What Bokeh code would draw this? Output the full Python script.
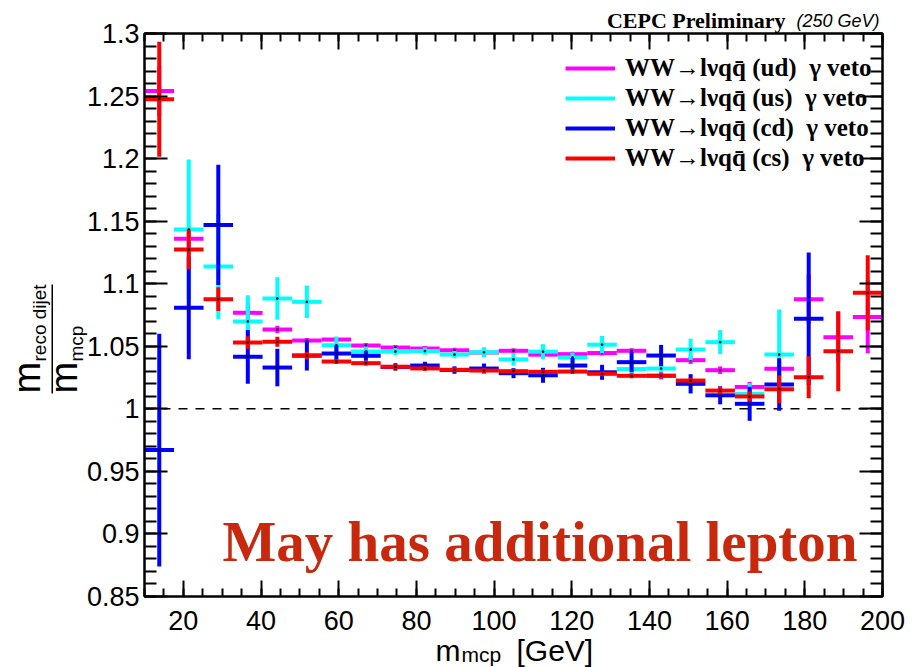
import math
from bokeh.plotting import figure
from bokeh.models import (Range1d, LinearAxis, SingleIntervalTicker, CustomJSTickFormatter,
                          ColumnDataSource, Span, Label, Legend, LegendItem, BoxAnnotation)
from bokeh.embed import file_html
from bokeh.resources import INLINE

nan = float("nan")

# ---------------- data ----------------
bin_centers = [13.8, 21.4, 29.0, 36.6, 44.2, 51.8, 59.4, 67.0, 74.6, 82.2, 89.8, 97.4, 105.0,
               112.6, 120.2, 127.8, 135.4, 143.0, 150.6, 158.2, 165.8, 173.4, 181.0, 188.6, 196.2]
bin_half_width = 3.8

ud_ratio = [1.254, 1.136, nan, 1.0767, 1.0634, 1.0546, 1.0554, 1.0506, 1.049, 1.0482, 1.0468, 1.045,
            1.0464, 1.0433, 1.0437, 1.0446, 1.0464, 1.0265, 1.0389, 1.0309, 1.0175, 1.032, 1.0876,
            1.0572, 1.0735]
ud_err = [0.02, 0.01, nan, 0.008, 0.003, 0.002, 0.002, 0.002, 0.002, 0.002, 0.002, 0.002, 0.002,
          0.002, 0.002, 0.002, 0.002, 0.003, 0.003, 0.003, 0.004, 0.006, 0.02, 0.02, 0.029]

us_ratio = [nan, 1.1433, 1.1138, 1.0698, 1.0882, 1.0855, 1.0508, 1.0458, 1.0458, 1.0462, 1.0434,
            1.0452, 1.0395, 1.0457, 1.041, 1.0513, 1.0318, 1.0322, 1.0474, 1.0533, 1.012, 1.0434,
            nan, nan, nan]
us_err = [nan, 0.056, 0.042, 0.021, 0.017, 0.013, 0.007, 0.004, 0.003, 0.003, 0.003, 0.004, 0.005,
          0.006, 0.004, 0.007, 0.004, 0.003, 0.0087, 0.0096, 0.0085, 0.036, nan, nan, nan]

cd_ratio = [0.967, 1.0807, 1.147, 1.0416, 1.033, 1.0426, 1.0442, 1.0424, 1.0335, 1.0346, 1.031,
            1.0322, 1.0285, 1.0268, 1.0346, 1.0292, 1.0373, 1.0426, 1.02, 1.0108, 1.004, 1.0194,
            1.072, nan, nan]
cd_err = [0.093, 0.041, 0.048, 0.0215, 0.015, 0.012, 0.0065, 0.004, 0.003, 0.003, 0.003, 0.004,
          0.004, 0.006, 0.006, 0.006, 0.008, 0.0085, 0.0077, 0.0072, 0.0136, 0.021, 0.053, nan, nan]

cs_ratio = [1.2475, 1.1273, 1.0876, 1.053, 1.0536, 1.0425, 1.0378, 1.0365, 1.0336, 1.0323, 1.0312,
            1.0306, 1.0301, 1.0296, 1.0298, 1.028, 1.0264, 1.0264, 1.0226, 1.0146, 1.0099, 1.0157,
            1.0253, 1.046, 1.0927]
cs_err = [0.046, 0.016, 0.0095, 0.005, 0.004, 0.003, 0.002, 0.002, 0.002, 0.002, 0.002, 0.002,
          0.002, 0.002, 0.002, 0.002, 0.002, 0.002, 0.002, 0.003, 0.004, 0.011, 0.0168, 0.032, 0.03]

series_names = ["ud", "us", "cd", "cs"]
series_colors = ["#ff00ff", "#00ffff", "#0000ff", "#ff0000"]
series_values = [ud_ratio, us_ratio, cd_ratio, cs_ratio]
series_errors = [ud_err, us_err, cd_err, cs_err]

x_range = (10, 200)
y_range = (0.85, 1.3)
reference_ratio = 1.0

# ---------------- layout ----------------
W, H = 913, 667
FL, FR, FT, FB = 144, 882, 33, 596
TICK_FONT = "Liberation Sans"
DECO_DY = 8  # the decoration layer sits this many px lower on the page

# Decoration layer: texts that sit outside the plot frame (its frame = whole canvas, page pixels)
deco = figure(width=W, height=H, x_range=Range1d(0, W), y_range=Range1d(H + DECO_DY, DECO_DY),
              output_backend="svg", toolbar_location=None,
              x_axis_location=None, y_axis_location=None,
              min_border_left=0, min_border_right=0, min_border_top=0, min_border_bottom=0)
deco.title.visible = False
deco.xgrid.visible = False
deco.ygrid.visible = False
deco.outline_line_color = None
deco.background_fill_color = "white"
deco.border_fill_color = "white"


def deco_label(text, px, py, size, font="Liberation Sans", style="normal", color="black",
               align="left"):
    deco.add_layout(Label(x=px, y=py, text=text, text_font=font, text_font_size=f"{size}px",
                          text_font_style=style, text_color=color, text_align=align,
                          text_baseline="alphabetic"))


def deco_vlabel(text, baseline_x, start_y, size):
    # rotated labels are anchored about 0.35 em left of their baseline
    deco.add_layout(Label(x=baseline_x - 0.35 * size, y=start_y, text=text,
                          text_font="Liberation Sans", text_font_size=f"{size}px",
                          text_color="black", text_align="left", text_baseline="alphabetic",
                          angle=math.pi / 2))


# header
deco_label("CEPC Preliminary", 785, 28, 22, font="Liberation Serif", style="bold", align="right")
deco_label("(250 GeV)", 796, 28, 18, style="italic")

# x-axis title
deco_label("m", 435, 658, 30)
deco_label("mcp", 461, 662, 21)
deco_label("[GeV]", 516, 658, 30)

# y-axis title (fraction, rotated)
deco_vlabel("m", 40, 401, 38)
deco_vlabel("reco dijet", 46, 369, 19)
deco.add_layout(BoxAnnotation(left=51, right=52.5, top=292, bottom=401, fill_color="black",
                              fill_alpha=1.0, line_color=None))
deco_vlabel("m", 77, 401, 38)
deco_vlabel("mcp", 83, 369, 19)

# Main plot, drawn on top of the decoration layer with a transparent border
p = figure(width=W, height=H, x_range=Range1d(*x_range), y_range=Range1d(*y_range),
           output_backend="svg", toolbar_location=None,
           x_axis_location=None, y_axis_location=None,
           min_border_left=FL, min_border_right=W - FR,
           min_border_top=FT, min_border_bottom=H - FB)
p.title.visible = False
p.xgrid.visible = False
p.ygrid.visible = False
p.outline_line_color = "black"
p.outline_line_width = 2
p.background_fill_color = "white"
p.border_fill_color = None
p.margin = (-H, 0, 0, 0)


def make_axis(kind, show_labels):
    if kind == "x":
        ticker = SingleIntervalTicker(interval=20, num_minor_ticks=4)
        maj, mnr = 16, 8
    else:
        ticker = SingleIntervalTicker(interval=0.05, num_minor_ticks=5)
        maj, mnr = 23, 12
    ax = LinearAxis(ticker=ticker)
    ax.major_tick_in = maj
    ax.major_tick_out = 0
    ax.minor_tick_in = mnr
    ax.minor_tick_out = 0
    ax.axis_line_color = "black"
    ax.axis_line_width = 2
    ax.major_tick_line_color = "black"
    ax.major_tick_line_width = 2
    ax.minor_tick_line_color = "black"
    ax.minor_tick_line_width = 2
    if show_labels:
        if kind == "y":
            ax.formatter = CustomJSTickFormatter(code="return String(Math.round(tick*100)/100);")
            ax.major_label_standoff = 5
        else:
            ax.formatter = CustomJSTickFormatter(code="return String(Math.round(tick));")
            ax.major_label_standoff = 14
        ax.major_label_text_font = TICK_FONT
        ax.major_label_text_font_size = "27px"
        ax.major_label_text_color = "black"
    else:
        ax.formatter = CustomJSTickFormatter(code="return '';")
        ax.major_label_text_font_size = "1px"
        ax.major_label_standoff = 0
    return ax


p.add_layout(make_axis("x", True), "below")
p.add_layout(make_axis("x", False), "above")
p.add_layout(make_axis("y", True), "left")
p.add_layout(make_axis("y", False), "right")

p.add_layout(Span(location=reference_ratio, dimension="width", line_color="black",
                  line_width=1.5, line_dash="9 8", level="underlay"))

legend_items = []
for name, color, vals, errs in zip(series_names, series_colors, series_values, series_errors):
    xs, ys, es = [], [], []
    for c, v, e in zip(bin_centers, vals, errs):
        if not math.isnan(v):
            xs.append(c)
            ys.append(v)
            es.append(0.0 if math.isnan(e) else e)
    src = ColumnDataSource(dict(
        x=xs, y=ys,
        xl=[c - bin_half_width for c in xs], xr=[c + bin_half_width for c in xs],
        yl=[y - e for y, e in zip(ys, es)], yh=[y + e for y, e in zip(ys, es)]))
    h = p.segment(x0="xl", x1="xr", y0="y", y1="y", source=src, line_color=color,
                  line_width=4, line_cap="butt")
    p.segment(x0="x", x1="x", y0="yl", y1="yh", source=src, line_color=color,
              line_width=4, line_cap="butt")
    p.scatter(x="x", y="y", source=src, marker="square", size=1.5, color="black")
    label = "WW\u2192l\u03bdqq\u0304 (" + name + ")  \u03b3 veto"
    legend_items.append(LegendItem(label=label, renderers=[h]))

legend = Legend(items=legend_items, location=(421, 423))
legend.border_line_color = None
legend.background_fill_alpha = 0
legend.padding = 0
legend.margin = 0
legend.spacing = 0
legend.glyph_width = 50
legend.glyph_height = 30
legend.label_height = 30
legend.label_standoff = 10
legend.label_text_font = "Liberation Serif"
legend.label_text_font_style = "bold"
legend.label_text_font_size = "25px"
legend.label_text_color = "black"
p.add_layout(legend)

# annotation inside the frame
p.add_layout(Label(x=222 - FL, y=FB - 541, x_units="screen", y_units="screen",
                   text="May has additional lepton", text_font="Liberation Serif",
                   text_font_size="57px", text_font_style="bold", text_color="#c8290e",
                   text_baseline="alphabetic"))

open("out.html", "w").write(file_html([deco, p], INLINE))
